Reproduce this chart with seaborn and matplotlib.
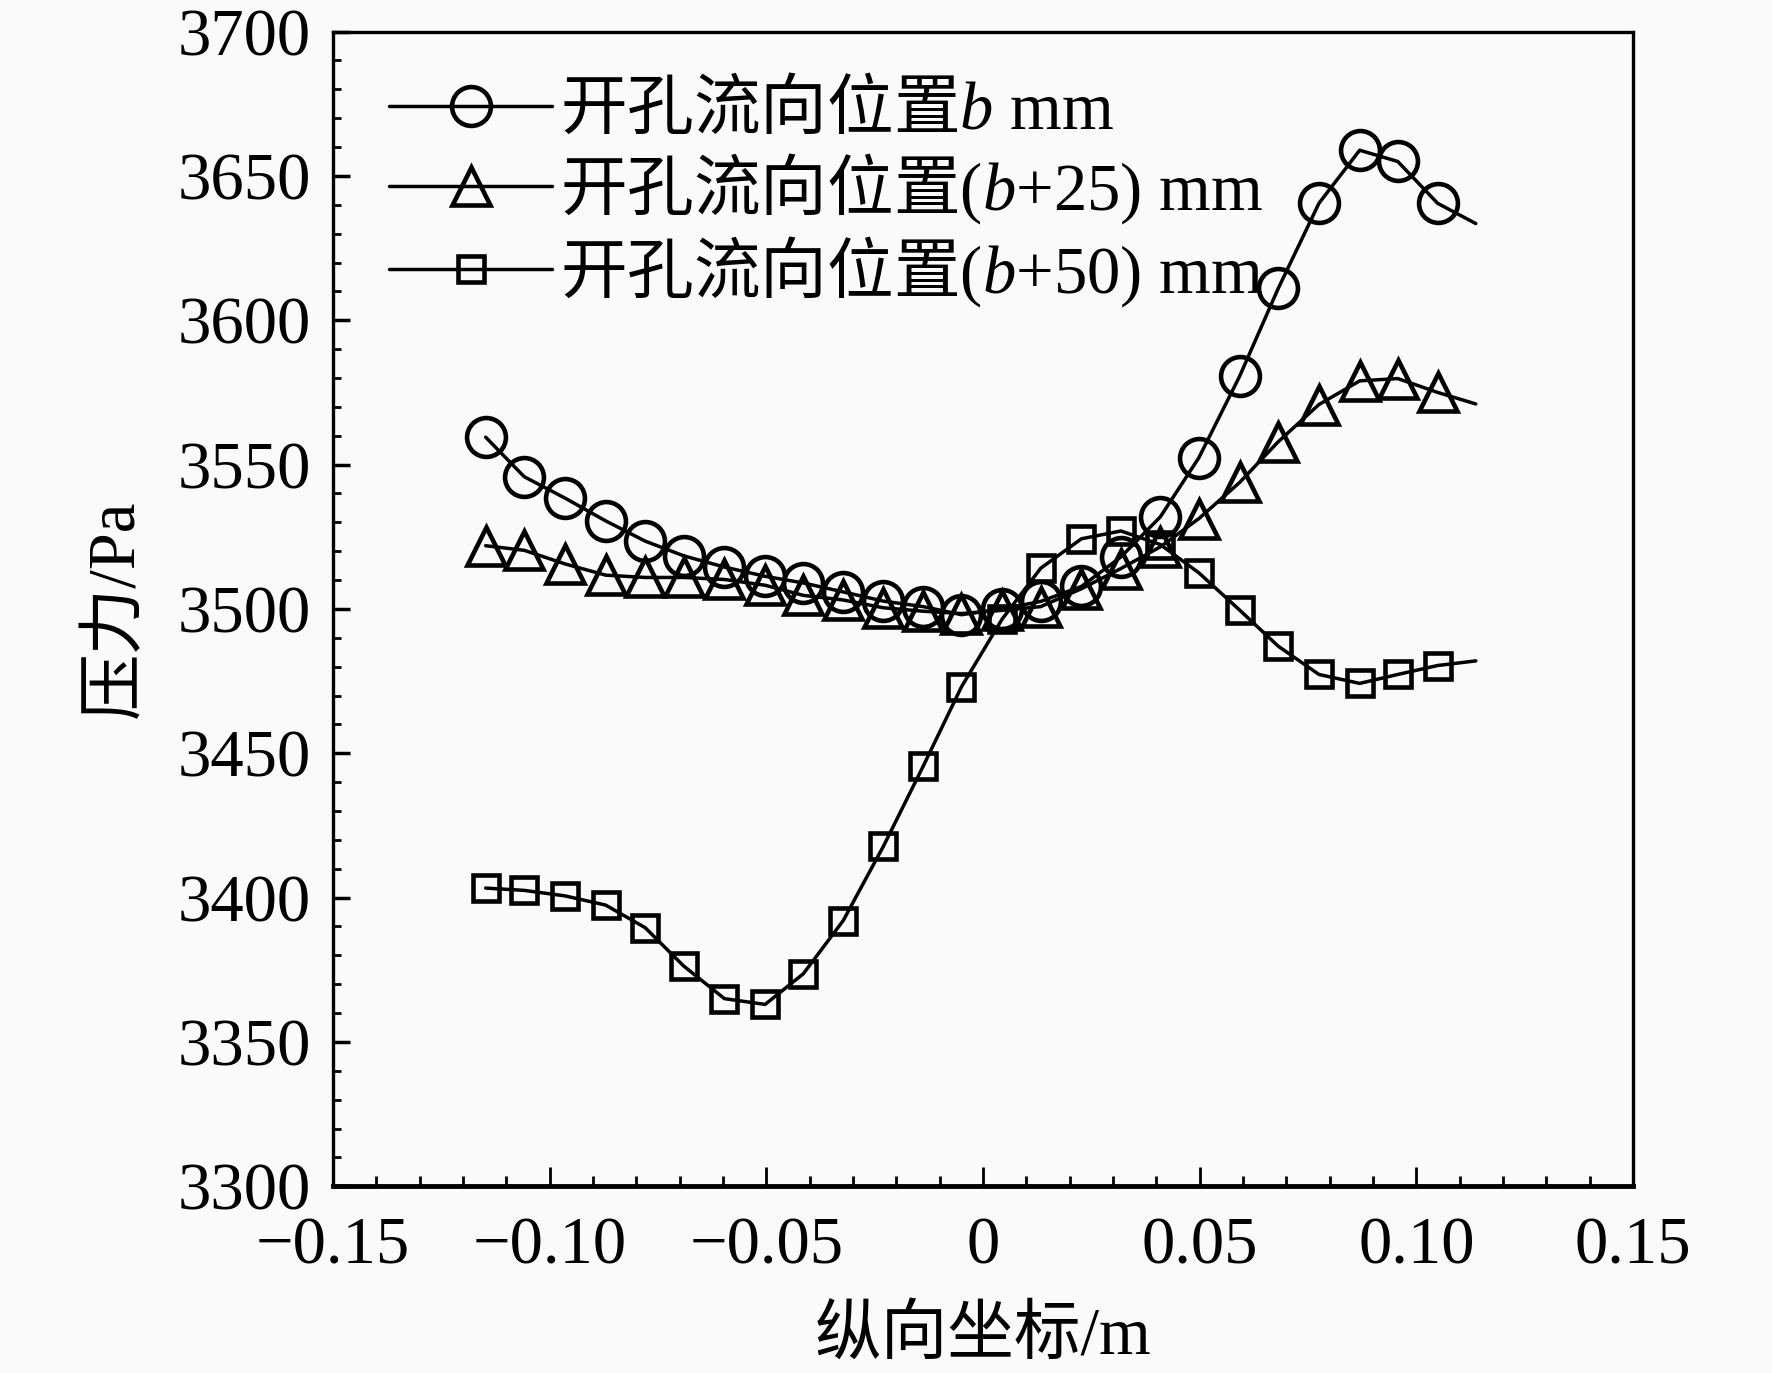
import numpy as np
import pandas as pd
import seaborn as sns
import matplotlib.pyplot as plt
from matplotlib.ticker import MultipleLocator

# longitudinal coordinate (m)
x_pos = [-0.1148, -0.1059, -0.0965, -0.0871, -0.0780, -0.0691, -0.0597, -0.0503,
         -0.0415, -0.0323, -0.0230, -0.0138, -0.0050, 0.0044, 0.0133, 0.0227,
         0.0318, 0.0409, 0.0498, 0.0592, 0.0681, 0.0775, 0.0869, 0.0957,
         0.1049, 0.1137]

p_b = [3559.5, 3545.8, 3538.4, 3530.5, 3523.5, 3518.4, 3514.5, 3511.3,
       3509.0, 3505.9, 3502.7, 3500.8, 3498.0, 3500.0, 3502.6, 3507.8,
       3518.0, 3531.9, 3552.4, 3580.6, 3611.0, 3640.5, 3658.9, 3655.0,
       3640.5, 3633.5]

p_b25 = [3521.9, 3520.3, 3515.6, 3511.7, 3510.9, 3510.9, 3510.2, 3508.2,
         3504.7, 3503.1, 3500.4, 3499.2, 3498.4, 3499.5, 3500.8, 3507.0,
         3514.0, 3521.5, 3531.3, 3543.8, 3557.9, 3570.8, 3579.0, 3579.8,
         3575.0, 3571.0]

p_b50 = [3403.3, 3402.5, 3400.6, 3397.4, 3389.6, 3376.3, 3365.0, 3363.0,
         3373.6, 3392.0, 3417.8, 3445.6, 3473.0, 3496.5, 3514.1, 3524.3,
         3527.0, 3522.3, 3512.5, 3499.6, 3487.1, 3477.3, 3474.2, 3477.3,
         3480.4, 3482.0]

# CJK part goes through \mathsf (mapped to the CJK font), the rest stays serif
cjk = r"$\mathsf{开孔流向位置}$"
labels = [cjk + "$b$ mm", cjk + "($b$+25) mm", cjk + "($b$+50) mm"]
markers = ["o", "^", "s"]
marker_sizes = [28, 28, 19]
xtick_vals = [-0.15, -0.10, -0.05, 0, 0.05, 0.10, 0.15]
xtick_text = ["\u22120.15", "\u22120.10", "\u22120.05", "0", "0.05", "0.10", "0.15"]
ytick_vals = [3300, 3350, 3400, 3450, 3500, 3550, 3600, 3650, 3700]

sns.set_style("ticks")
plt.rcParams["font.family"] = ["Liberation Serif", "Noto Sans CJK SC"]
plt.rcParams["mathtext.fontset"] = "custom"
plt.rcParams["mathtext.it"] = "Liberation Serif:italic"
plt.rcParams["mathtext.rm"] = "Liberation Serif"
plt.rcParams["mathtext.sf"] = "Noto Sans CJK SC"
plt.rcParams["axes.unicode_minus"] = True
for key in ["text.color", "axes.labelcolor", "xtick.color", "ytick.color"]:
    plt.rcParams[key] = "black"

fs = 48
fig = plt.figure(figsize=(17.72, 13.73), dpi=100, facecolor="#fafafa")
ax = fig.add_axes([0.188, 0.136, 0.7336, 0.841])
ax.set_facecolor("#fafafa")

for vals, mk, ms, lab in zip([p_b, p_b25, p_b50], markers, marker_sizes, labels):
    df = pd.DataFrame({"x": x_pos, "p": vals})
    sns.lineplot(data=df, x="x", y="p", ax=ax, color="black", linewidth=2.5,
                 marker=mk, markersize=ms, markerfacecolor="none",
                 markeredgecolor="black", markeredgewidth=3.3,
                 markevery=list(range(len(vals) - 1)), label=lab)

ax.set_xlim(-0.15, 0.15)
ax.set_ylim(3300, 3700)
ax.set_xticks(xtick_vals)
ax.set_xticklabels(xtick_text)
ax.set_yticks(ytick_vals)
ax.xaxis.set_minor_locator(MultipleLocator(0.01))
ax.yaxis.set_minor_locator(MultipleLocator(10))
ax.tick_params(axis="x", which="major", direction="in", length=14, width=2,
               labelsize=fs, pad=22)
ax.tick_params(axis="x", which="minor", direction="in", length=7, width=2)
ax.tick_params(axis="y", which="major", direction="in", length=12, width=2.5,
               labelsize=fs, pad=16)
ax.tick_params(axis="y", which="minor", direction="in", length=6, width=2)

for side, sp in ax.spines.items():
    sp.set_color("black")
    sp.set_linewidth(2.4)
ax.spines["bottom"].set_linewidth(3.5)

ax.set_xlabel("纵向坐标/m", fontsize=fs, labelpad=20)
ax.set_ylabel("压力/Pa", fontsize=fs, labelpad=22)

ax.legend(loc="upper left", bbox_to_anchor=(0.043, 0.96), frameon=False,
          fontsize=fs, handlelength=2.45, handletextpad=0.12, labelspacing=0.12,
          borderaxespad=0, borderpad=0)

fig.savefig("out.png", dpi=100, facecolor=fig.get_facecolor())
